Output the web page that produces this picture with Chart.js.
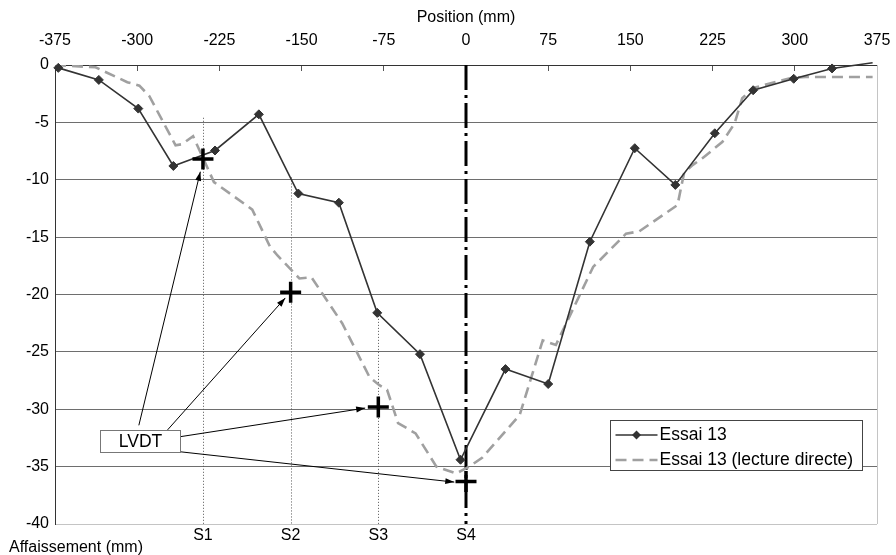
<!DOCTYPE html>
<html>
<head>
<meta charset="UTF-8">
<title>Essai 13 - Affaissement</title>
<script src="https://cdn.jsdelivr.net/npm/chart.js"></script>
<style>
  body { margin: 0; background: #fff; }
</style>
</head>
<body>
<canvas id="affChart" width="896" height="555"></canvas>
<script>
// Essai 13 (mesures)
var essaiX = [-372, -335, -299, -267, -229, -189, -153, -116, -81, -42, -5, 36, 75, 113, 154, 191, 227, 262, 299, 334, 371];
var essaiY = [-0.25, -1.3, -3.8, -8.8, -7.45, -4.3, -11.2, -12.0, -21.6, -25.2, -34.4, -26.5, -27.8, -15.4, -7.25, -10.45, -5.95, -2.2, -1.2, -0.3, 0.2];

// Essai 13 (lecture directe)
var directX = [-375, -338, -309, -298, -289, -265, -259, -249, -230, -195, -179, -172, -152, -141, -113, -88, -79, -72, -62, -46, -27, -9, 3, 15, 49, 70, 82, 116, 146, 158, 193, 199, 207, 216, 234, 245, 252, 262, 298, 310, 371];
var directY = [0, -0.2, -1.5, -1.8, -2.7, -7.0, -6.9, -6.2, -10.2, -12.6, -15.8, -16.6, -18.6, -18.5, -22.5, -27.2, -27.9, -28.3, -31.2, -32.1, -35.0, -35.6, -35.0, -34.2, -30.5, -24.0, -24.4, -17.6, -14.7, -14.5, -12.2, -9.4, -8.7, -8.1, -6.7, -5.1, -2.9, -2.0, -1.1, -1.05, -1.05];

// LVDT S1..S4
var sectionLabels = ['S1', 'S2', 'S3', 'S4'];
var sectionX = [-240, -160, -80, 0];
var lvdtY = [-8.2, -19.8, -29.8, -36.3];

var xTicks = [-375, 75, 375];   // min, step, max
var yTicks = [-40, 5, 0];

// annotation geometry (data units)
var sectionTop = [-4.6, -9.8, -21.6];
var lvdtBox = { x1: -334, x2: -261, y1: -31.8, y2: -33.7 };
var arrowFrom = [[-298.5, -31.4], [-272.3, -31.8], [-261.3, -32.4], [-261.3, -33.7]];
var arrowTo = [[-242.4, -9.3], [-164.9, -20.3], [-92, -29.9], [-10.7, -36.35]];

var FONT = '16px "Liberation Sans", Arial, sans-serif';
var LEGEND_FONT = '17.5px "Liberation Sans", Arial, sans-serif';

function pts(xs, ys) {
    return xs.map(function(v, i) { return { x: v, y: ys[i] }; });
}

function arrow(ctx, x1, y1, x2, y2) {
    var ang = Math.atan2(y2 - y1, x2 - x1);
    ctx.beginPath();
    ctx.moveTo(x1, y1);
    ctx.lineTo(x2, y2);
    ctx.stroke();
    ctx.beginPath();
    ctx.moveTo(x2, y2);
    ctx.lineTo(x2 - 9 * Math.cos(ang) + 3 * Math.sin(ang), y2 - 9 * Math.sin(ang) - 3 * Math.cos(ang));
    ctx.lineTo(x2 - 9 * Math.cos(ang) - 3 * Math.sin(ang), y2 - 9 * Math.sin(ang) + 3 * Math.cos(ang));
    ctx.closePath();
    ctx.fill();
}

var overlay = {
    id: 'overlay',
    beforeDatasetsDraw: function(chart) {
        var ctx = chart.ctx, a = chart.chartArea, x = chart.scales.x, y = chart.scales.y;
        ctx.save();
        // right border
        ctx.strokeStyle = '#c4c4c4';
        ctx.lineWidth = 1;
        ctx.beginPath();
        ctx.moveTo(Math.round(a.right) + 0.5, a.top);
        ctx.lineTo(Math.round(a.right) + 0.5, a.bottom);
        ctx.stroke();
        // dotted lines S1..S3
        ctx.strokeStyle = '#555';
        ctx.setLineDash([1, 2]);
        for (var i = 0; i < 3; i++) {
            var px = Math.round(x.getPixelForValue(sectionX[i])) + 0.5;
            ctx.beginPath();
            ctx.moveTo(px, y.getPixelForValue(sectionTop[i]));
            ctx.lineTo(px, a.bottom);
            ctx.stroke();
        }
        // axis of symmetry (S4)
        ctx.strokeStyle = '#000';
        ctx.lineWidth = 3;
        ctx.setLineDash([25, 5, 3, 5]);
        var px0 = x.getPixelForValue(sectionX[3]);
        ctx.beginPath();
        ctx.moveTo(px0, a.top);
        ctx.lineTo(px0, a.bottom);
        ctx.stroke();
        ctx.restore();
    },
    afterDraw: function(chart) {
        var ctx = chart.ctx, a = chart.chartArea, x = chart.scales.x, y = chart.scales.y;
        ctx.save();
        ctx.font = FONT;
        ctx.fillStyle = '#000';
        ctx.textBaseline = 'middle';

        // section labels
        ctx.textAlign = 'center';
        sectionLabels.forEach(function(s, i) {
            ctx.fillText(s, x.getPixelForValue(sectionX[i]), a.bottom + 12);
        });
        ctx.textAlign = 'left';
        ctx.fillText('Affaissement (mm)', 9, a.bottom + 24);

        // arrows to LVDT
        ctx.strokeStyle = '#000';
        ctx.lineWidth = 1;
        for (var i = 0; i < arrowFrom.length; i++) {
            arrow(ctx, x.getPixelForValue(arrowFrom[i][0]), y.getPixelForValue(arrowFrom[i][1]),
                x.getPixelForValue(arrowTo[i][0]), y.getPixelForValue(arrowTo[i][1]));
        }

        // LVDT box
        var bx1 = Math.round(x.getPixelForValue(lvdtBox.x1)) + 0.5, bx2 = Math.round(x.getPixelForValue(lvdtBox.x2)) + 0.5;
        var by1 = Math.round(y.getPixelForValue(lvdtBox.y1)) + 0.5, by2 = Math.round(y.getPixelForValue(lvdtBox.y2)) + 0.5;
        ctx.fillStyle = '#fff';
        ctx.fillRect(bx1, by1, bx2 - bx1, by2 - by1);
        ctx.strokeStyle = '#777';
        ctx.strokeRect(bx1, by1, bx2 - bx1, by2 - by1);
        ctx.fillStyle = '#000';
        ctx.textAlign = 'center';
        ctx.font = LEGEND_FONT;
        ctx.fillText('LVDT', (bx1 + bx2) / 2, (by1 + by2) / 2 + 1);

        // legend
        var lx = Math.round(a.right) - 266.5, ly = 420.5;
        ctx.fillStyle = '#fff';
        ctx.fillRect(lx, ly, 252, 50);
        ctx.strokeStyle = '#444';
        ctx.strokeRect(lx, ly, 252, 50);
        var ds = chart.data.datasets;
        ctx.strokeStyle = ds[0].borderColor;
        ctx.lineWidth = ds[0].borderWidth;
        ctx.beginPath();
        ctx.moveTo(lx + 5, ly + 14.5);
        ctx.lineTo(lx + 47, ly + 14.5);
        ctx.stroke();
        ctx.fillStyle = ds[0].backgroundColor;
        ctx.beginPath();
        ctx.moveTo(lx + 26, ly + 10);
        ctx.lineTo(lx + 30.5, ly + 14.5);
        ctx.lineTo(lx + 26, ly + 19);
        ctx.lineTo(lx + 21.5, ly + 14.5);
        ctx.closePath();
        ctx.fill();
        ctx.strokeStyle = ds[1].borderColor;
        ctx.lineWidth = ds[1].borderWidth;
        ctx.setLineDash(ds[1].borderDash);
        ctx.beginPath();
        ctx.moveTo(lx + 5, ly + 39.5);
        ctx.lineTo(lx + 47, ly + 39.5);
        ctx.stroke();
        ctx.setLineDash([]);
        ctx.fillStyle = '#000';
        ctx.textAlign = 'left';
        ctx.fillText(ds[0].label, lx + 49, ly + 15);
        ctx.fillText(ds[1].label, lx + 49, ly + 40);
        ctx.restore();
    }
};

var ctx = document.getElementById('affChart').getContext('2d');
new Chart(ctx, {
    type: 'scatter',
    data: {
        datasets: [{
            label: 'Essai 13',
            data: pts(essaiX, essaiY),
            showLine: true,
            borderColor: '#333333',
            backgroundColor: '#333333',
            borderWidth: 1.6,
            pointStyle: 'rectRot',
            pointRadius: essaiX.map(function(v, i) { return i === essaiX.length - 1 ? 0 : 4.5; }),
            pointBorderWidth: 1,
            clip: 6,
            order: 2
        }, {
            label: 'Essai 13 (lecture directe)',
            data: pts(directX, directY),
            showLine: true,
            borderColor: '#a0a0a0',
            backgroundColor: '#a0a0a0',
            borderWidth: 2.6,
            borderDash: [11, 6],
            pointRadius: 0,
            order: 3
        }, {
            label: 'LVDT',
            data: pts(sectionX, lvdtY),
            showLine: false,
            pointStyle: 'cross',
            pointRadius: 10.5,
            borderColor: '#000',
            pointBorderWidth: 3.5,
            clip: false,
            order: 1
        }]
    },
    options: {
        responsive: false,
        animation: false,
        layout: { padding: { left: 0, right: 19, top: 0, bottom: 31 } },
        plugins: {
            legend: { display: false },
            tooltip: { enabled: false }
        },
        scales: {
            x: {
                type: 'linear',
                position: 'top',
                min: xTicks[0],
                max: xTicks[2],
                afterFit: function(scale) {
                    scale.height = 65;
                    scale.paddingLeft = 0;
                    scale.paddingRight = 0;
                },
                ticks: {
                    stepSize: xTicks[1],
                    padding: 21,
                    color: '#000',
                    font: { family: '"Liberation Sans", Arial', size: 16 }
                },
                grid: { drawOnChartArea: false, tickLength: -6, color: '#555' },
                border: { color: '#333', width: 1 },
                title: {
                    display: true,
                    text: 'Position (mm)',
                    color: '#000',
                    padding: { top: 8, bottom: 0 },
                    font: { family: '"Liberation Sans", Arial', size: 16 }
                }
            },
            y: {
                type: 'linear',
                min: yTicks[0],
                max: yTicks[2],
                afterFit: function(scale) {
                    scale.width = 55;
                    scale.paddingTop = 0;
                    scale.paddingBottom = 0;
                },
                ticks: {
                    stepSize: yTicks[1],
                    padding: 6,
                    color: '#000',
                    font: { family: '"Liberation Sans", Arial', size: 16 }
                },
                grid: {
                    drawTicks: false,
                    color: function(c) { return c.tick && c.tick.value === yTicks[0] ? '#c4c4c4' : '#6e6e6e'; }
                },
                border: { color: '#333', width: 1 }
            }
        }
    },
    plugins: [overlay]
});
</script>
</body>
</html>
